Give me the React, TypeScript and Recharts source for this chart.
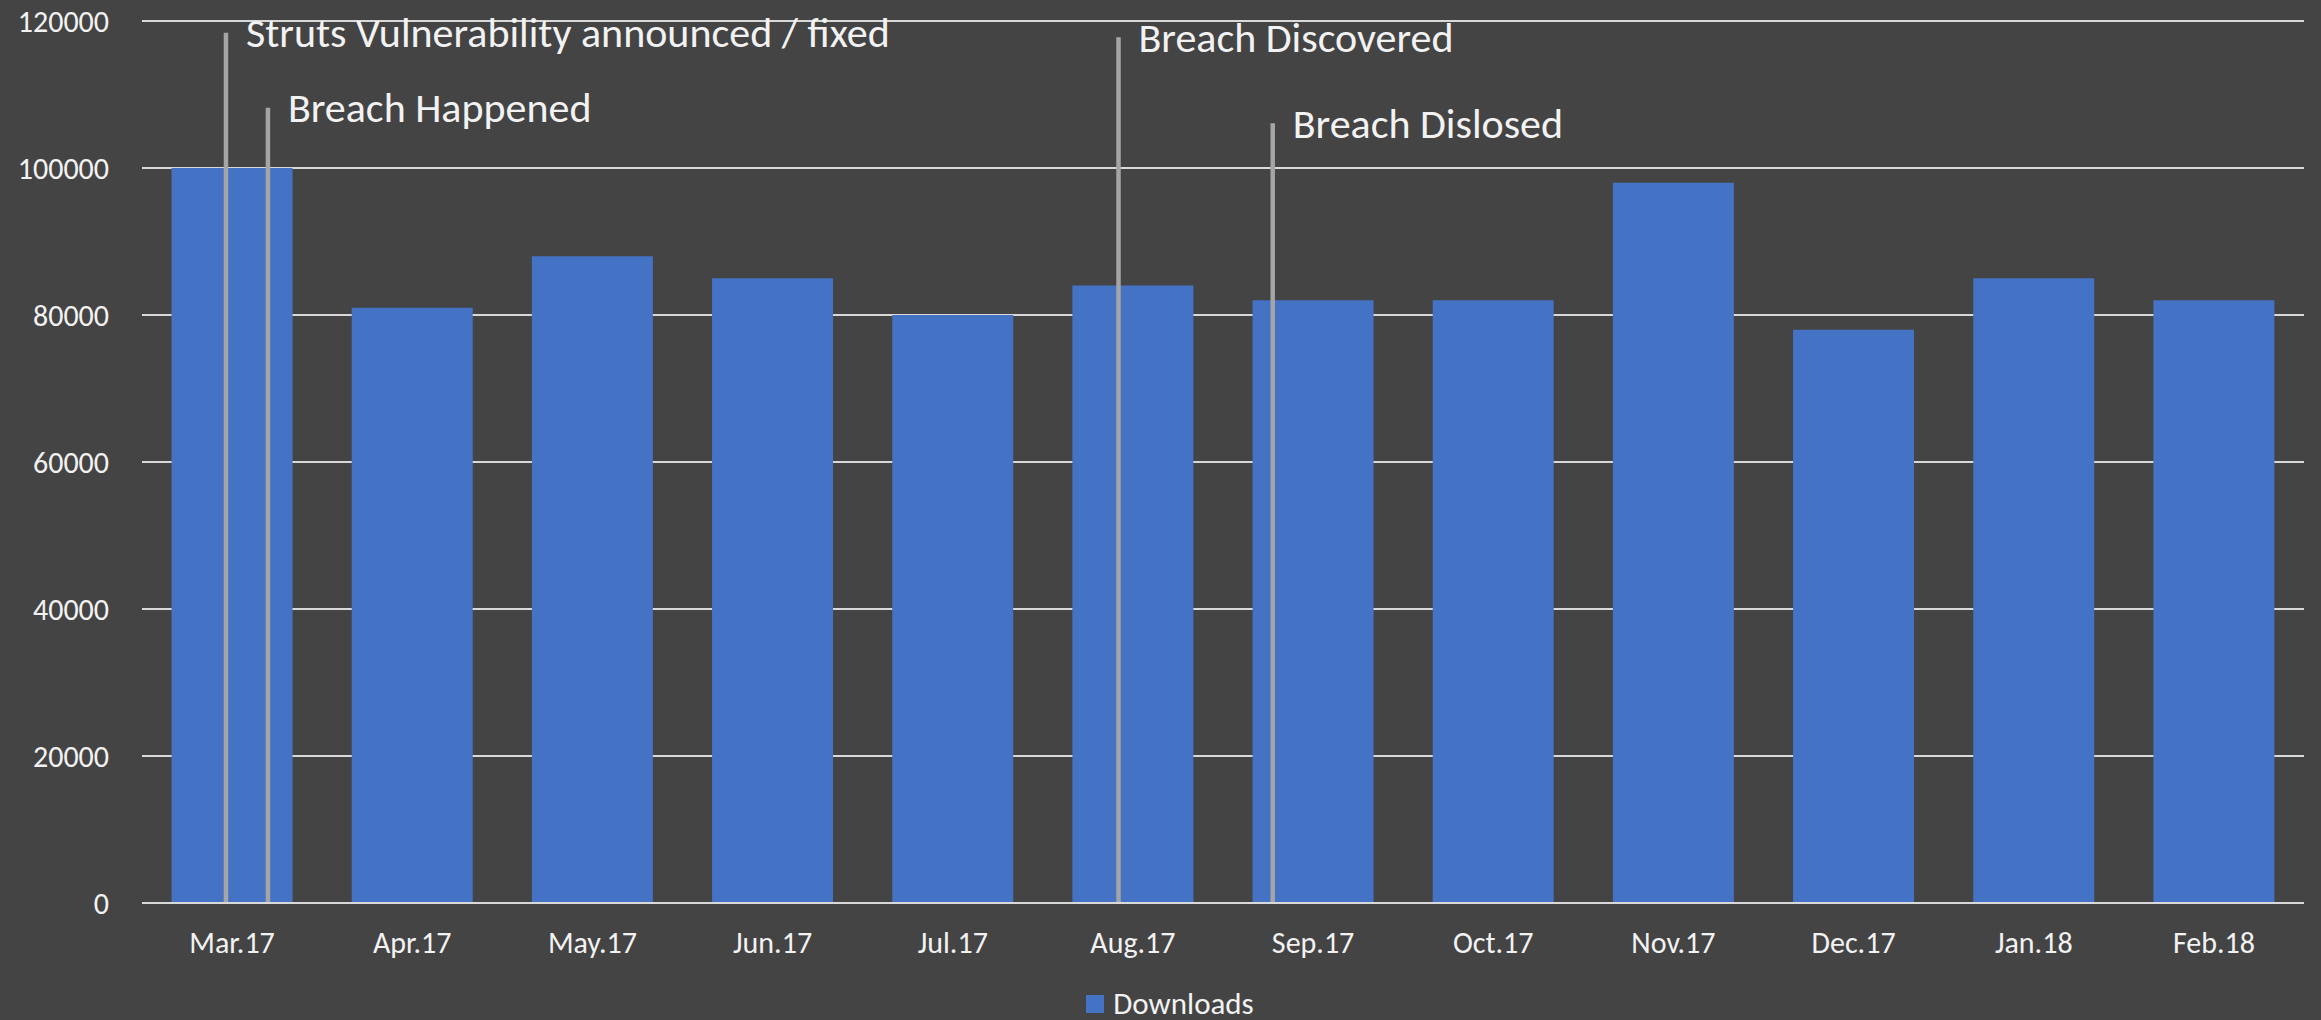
import React from 'react';
import { BarChart, Bar, XAxis, YAxis, CartesianGrid, ReferenceLine, Legend } from 'recharts';

const categories = ['Mar.17', 'Apr.17', 'May.17', 'Jun.17', 'Jul.17', 'Aug.17', 'Sep.17', 'Oct.17', 'Nov.17', 'Dec.17', 'Jan.18', 'Feb.18'];
const downloads = [100000, 81000, 88000, 85000, 80000, 84000, 82000, 82000, 98000, 78000, 85000, 82000];
const yTicks = [0, 20000, 40000, 60000, 80000, 100000, 120000];

const eventLabels = ['Struts Vulnerability announced / fixed', 'Breach Happened', 'Breach Discovered', 'Breach Dislosed'];
// positions measured in category units from the left edge of the plot
const eventPositions = [0.466, 0.699, 5.42, 6.276];
const eventHeights = [118400, 108200, 117800, 106100];

const data = categories.map((c, i) => ({ month: c, slot: i + 0.5, Downloads: downloads[i] }));

const FONT = 'Calibri, Carlito, Lato, sans-serif';
const BG = '#444444';
const GRID = '#d9d9d9';
const TEXT = '#f2f2f2';
const BAR = '#4472c4';
const EVENT = '#a5a5a5';

const LegendContent = () => (
  <div style={{ height: 40, display: 'flex', justifyContent: 'center', alignItems: 'flex-end', paddingLeft: 36 }}>
    <div style={{ display: 'flex', alignItems: 'center', height: 30, marginBottom: 2 }}>
      <div style={{ width: 18, height: 18, background: BAR, marginRight: 9, marginTop: 2 }} />
      <span style={{ fontFamily: FONT, fontSize: 31, color: TEXT, lineHeight: '30px' }}>Downloads</span>
    </div>
  </div>
);

export default function App() {
  return (
    <div style={{ position: 'absolute', left: 0, top: 0, width: 2321, height: 1020, background: BG }}>
      <BarChart
        width={2321}
        height={1020}
        data={data}
        margin={{ top: 21, right: 17, bottom: 0, left: 0 }}
        barCategoryGap="16.4%"
      >
        <CartesianGrid vertical={false} stroke={GRID} strokeWidth={2} />
        <XAxis
          dataKey="month"
          height={77}
          tickLine={false}
          tickSize={0}
          tickMargin={29}
          axisLine={{ stroke: GRID, strokeWidth: 2 }}
          tick={{ fill: TEXT, fontSize: 30, fontFamily: FONT }}
          interval={0}
        />
        <XAxis xAxisId="num" dataKey="slot" type="number" domain={[0, 12]} allowDataOverflow hide />
        <YAxis
          width={142}
          domain={[0, 120000]}
          ticks={yTicks}
          interval={0}
          tickLine={false}
          tickSize={0}
          tickMargin={33}
          axisLine={false}
          tick={{ fill: TEXT, fontSize: 30, fontFamily: FONT }}
        />
        <Bar dataKey="Downloads" fill={BAR} isAnimationActive={false} />
        {eventLabels.map((lbl, i) => (
          <ReferenceLine
            key={lbl}
            xAxisId="num"
            segment={[
              { x: eventPositions[i], y: 0 },
              { x: eventPositions[i], y: eventHeights[i] },
            ]}
            stroke={EVENT}
            strokeWidth={4.5}
            ifOverflow="visible"
            label={(props: any) => {
              const vb = props.viewBox || {};
              return (
                <text
                  x={(vb.x || 0) + 20}
                  y={vb.y || 0}
                  dominantBaseline="central"
                  fill={TEXT}
                  fontSize={42}
                  fontFamily={FONT}
                >
                  {lbl}
                </text>
              );
            }}
          />
        ))}
        <Legend verticalAlign="bottom" height={40} content={<LegendContent />} />
      </BarChart>
    </div>
  );
}
